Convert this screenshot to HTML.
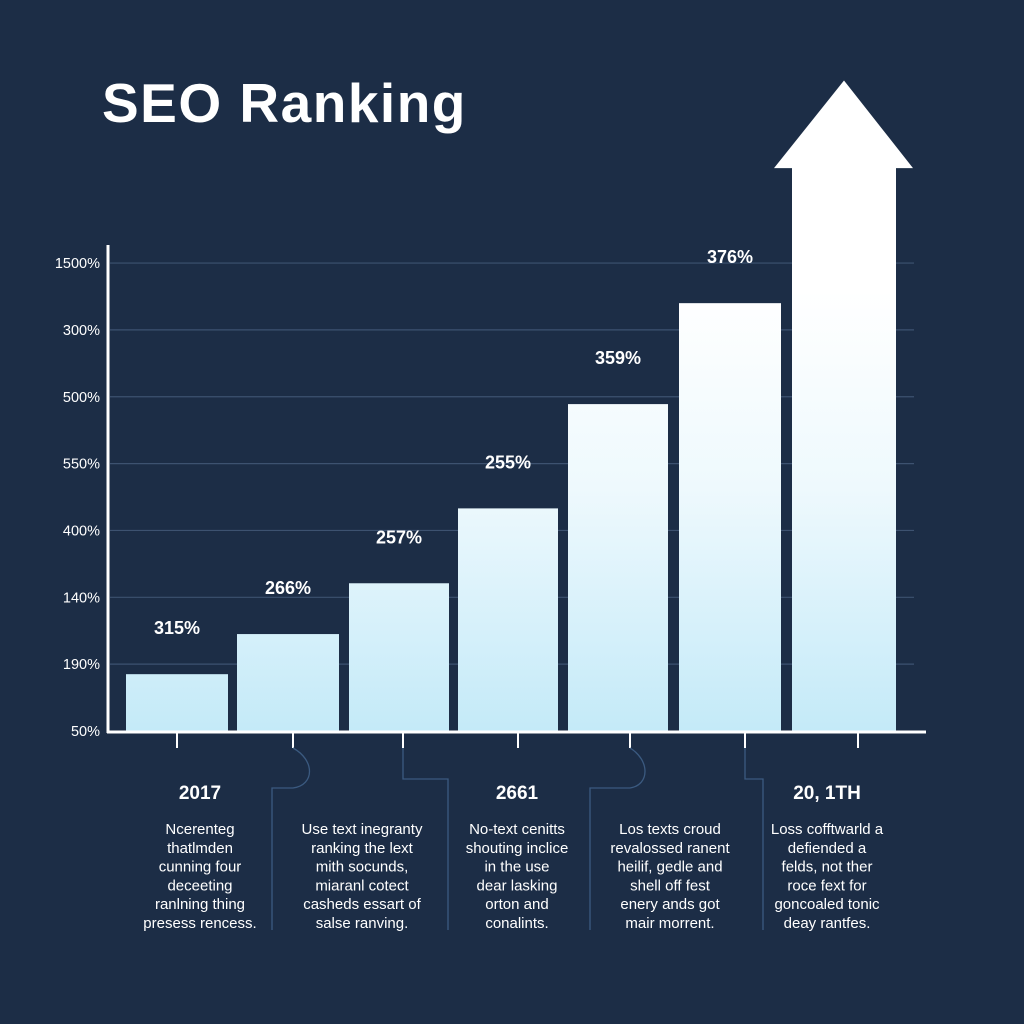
<!DOCTYPE html>
<html><head><meta charset="utf-8"><style>
html,body{margin:0;padding:0;background:#1c2d46;}
svg{display:block;font-family:"Liberation Sans",sans-serif;}
</style></head><body>
<svg id="chart" width="1024" height="1024" viewBox="0 0 1024 1024">
<defs>
<linearGradient id="barGrad" gradientUnits="userSpaceOnUse" x1="0" y1="290" x2="0" y2="731">
<stop offset="0" stop-color="#ffffff"/><stop offset="0.45" stop-color="#eef9fd"/><stop offset="1" stop-color="#c4eaf8"/>
</linearGradient>
</defs>
<rect width="1024" height="1024" fill="#1c2d46"/>
<text x="102" y="122" font-size="55" font-weight="bold" letter-spacing="1.5" fill="#ffffff">SEO Ranking</text>
<g id="grid"></g><g id="bars"></g><g id="axes"></g><g id="conn"></g><g id="foot"></g>
</svg>
<script>
const tickLabels = ["50%","190%","140%","400%","550%","500%","300%","1500%"];
const categories = ["c1","c2","c3","c4","c5","c6"];
const values = [0.85, 1.45, 2.21, 3.33, 4.89, 6.4];
const valueLabels = ["315%","266%","257%","255%","359%","376%"];
const arrowValue = 8.42;
const arrowTipValue = 9.73;
const years = ["2017","","2661","","20, 1TH"];
const descriptions = [
 ["Ncerenteg","thatlmden","cunning four","deceeting","ranlning thing","presess rencess."],
 ["Use text inegranty","ranking the lext","mith socunds,","miaranl cotect","casheds essart of","salse ranving."],
 ["No-text cenitts","shouting inclice","in the use","dear lasking","orton and","conalints."],
 ["Los texts croud","revalossed ranent","heilif, gedle and","shell off fest","enery ands got","mair morrent."],
 ["Loss cofftwarld a","defiended a","felds, not ther","roce fext for","goncoaled tonic","deay rantfes."]
];
const NS="http://www.w3.org/2000/svg";
const baseY=731, unit=66.85;
function y(v){return baseY - v*unit;}
const barX=[126,237,349,458,568,679], barW=[102,102,100,100,100,102];
function mk(tag,attrs,parent){const e=document.createElementNS(NS,tag);for(const k in attrs)e.setAttribute(k,attrs[k]);parent.appendChild(e);return e;}
const grid=document.getElementById('grid');
tickLabels.forEach((t,i)=>{
  if(i>0){const l=mk('line',{x1:110,x2:914,y1:y(i),y2:y(i),stroke:'#3d5270','stroke-width':1.2},grid);
  
  }
  const tx=mk('text',{x:100,y:y(i)+5,'text-anchor':'end','font-size':14.5,fill:'#ffffff'},grid);
  tx.textContent=t;
  
  
});
const bars=document.getElementById('bars');
values.forEach((v,i)=>{
  const r=mk('rect',{x:barX[i],y:y(v),width:barW[i],height:baseY-y(v),fill:'url(#barGrad)'},bars);
  
  
  const t=mk('text',{x:barX[i]+barW[i]/2,y:y(v)-40,'text-anchor':'middle','font-size':18,'font-weight':'bold',fill:'#ffffff'},bars);
  t.textContent=valueLabels[i];
  
  
});
const ay=y(arrowValue), ty=y(arrowTipValue);
const ar=mk('path',{d:`M792 ${baseY} L792 ${ay} L774 ${ay} L844 ${ty} L913 ${ay} L896 ${ay} L896 ${baseY} Z`,fill:'url(#barGrad)'},bars);


const axes=document.getElementById('axes');
const ya=mk('line',{x1:108,x2:108,y1:245,y2:733,stroke:'#ffffff','stroke-width':3},axes);


const xa=mk('line',{x1:107,x2:926,y1:732,y2:732,stroke:'#ffffff','stroke-width':3},axes);


[177,293,403,518,630,745,858].forEach(x=>{
  const l=mk('line',{x1:x,x2:x,y1:732,y2:748,stroke:'#ffffff','stroke-width':2},axes);
  
  
});
const conn=document.getElementById('conn');
["M293 748 C315 760 315 785 293 788 L272 788 L272 930",
 "M403 748 L403 779 L448 779 L448 930",
 "M630 748 C650 760 650 785 630 788 L590 788 L590 930",
 "M745 748 L745 779 L763 779 L763 930"].forEach(d=>{
  const p=mk('path',{d:d,fill:'none',stroke:'#3b5a80','stroke-width':1.3},conn);
  
  
});
const foot=document.getElementById('foot');
const cx=[200,362,517,670,827];
cx.forEach((x,i)=>{
  if(years[i]){const t=mk('text',{x:x,y:799,'text-anchor':'middle','font-size':19,'font-weight':'bold',fill:'#ffffff'},foot);
  t.textContent=years[i];
  
  }
  descriptions[i].forEach((s,j)=>{
    const t=mk('text',{x:x,y:834+j*18.8,'text-anchor':'middle','font-size':15,fill:'#ffffff'},foot);
    t.textContent=s;
    
    
  });
});
</script>
</body></html>
